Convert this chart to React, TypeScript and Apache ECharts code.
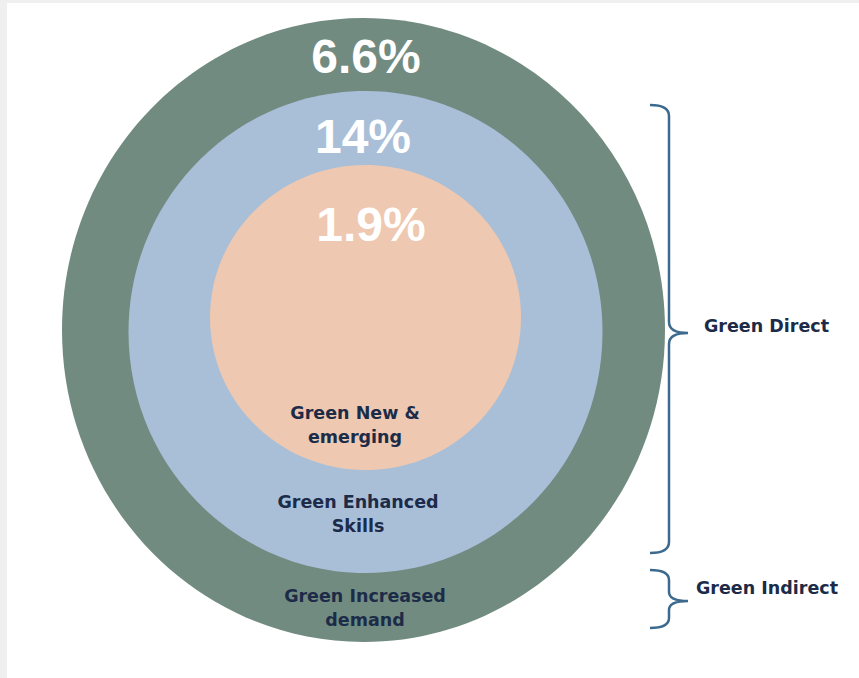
import React, { useEffect, useRef } from "react";
import * as echarts from "echarts";

// Nested rings, outermost first
const categories = ["Green Increased demand", "Green Enhanced Skills", "Green New & emerging"];
const labelLines = [["Green Increased", "demand"], ["Green Enhanced", "Skills"], ["Green New &", "emerging"]];
const shares = [6.6, 14, 1.9];
const shareLabels = ["6.6%", "14%", "1.9%"];
const groups = ["Green Direct", "Green Indirect"];

const ringColors = ["#728B80", "#A9BFD8", "#EEC8B0"];
const ellipses = [
  { cx: 363.5, cy: 330, rx: 301.5, ry: 312 },
  { cx: 365.5, cy: 332, rx: 237, ry: 241 },
  { cx: 365.5, cy: 317.5, rx: 155.5, ry: 152.5 },
];
const sharePos = [
  [366, 56],
  [363, 136],
  [371, 224],
];
const labelPos = [
  [365, 596],
  [358, 502],
  [355, 413],
];
const groupPos = [
  [704, 326],
  [696, 588],
];

const braceDirect = "M650,105 Q669,105 669,116 L669,322 Q669,333 688,333 Q669,333 669,344 L669,542 Q669,553 650,553";
const braceIndirect = "M650,570 Q669,570 669,580 L669,592 Q669,601 688,601 Q669,601 669,610 L669,618 Q669,628 650,628";

export default function App() {
  const ref = useRef<HTMLDivElement>(null);
  useEffect(() => {
    document.body.style.margin = "0";
    echarts.graphic.registerShape("braceDirect", echarts.graphic.extendPath(braceDirect, {}));
    echarts.graphic.registerShape("braceIndirect", echarts.graphic.extendPath(braceIndirect, {}));
    const chart = echarts.init(ref.current!, null, { renderer: "svg" });
    const textColor = "#1C2B48";
    const labelFont = "'DejaVu Sans', sans-serif";
    const elements: any[] = [
      { type: "rect", shape: { x: 0, y: 0, width: 859, height: 3 }, style: { fill: "#EFEFEF" }, silent: true },
      { type: "rect", shape: { x: 0, y: 0, width: 7, height: 678 }, style: { fill: "#EFEFEF" }, silent: true },
    ];
    categories.forEach((c, i) => {
      const e = ellipses[i];
      elements.push({
        type: "ellipse",
        name: c,
        shape: { cx: e.cx, cy: e.cy, rx: e.rx, ry: e.ry },
        style: { fill: ringColors[i] },
      });
    });
    shares.forEach((v, i) => {
      elements.push({
        type: "text",
        x: sharePos[i][0],
        y: sharePos[i][1],
        style: {
          text: shareLabels[i],
          fill: "#FFFFFF",
          font: "bold 48px 'Liberation Sans', Arial, sans-serif",
          textAlign: "center",
          textVerticalAlign: "middle",
        },
      });
    });
    labelLines.forEach((lines, i) => {
      elements.push({
        type: "text",
        x: labelPos[i][0],
        y: labelPos[i][1] - 12,
        style: {
          text: lines.join("\n"),
          fill: textColor,
          font: `bold 17.5px ${labelFont}`,
          lineHeight: 24,
          textAlign: "center",
          textVerticalAlign: "top",
        },
      });
    });
    groups.forEach((g, i) => {
      elements.push({
        type: "text",
        x: groupPos[i][0],
        y: groupPos[i][1],
        style: {
          text: g,
          fill: textColor,
          font: `bold 17.5px ${labelFont}`,
          textAlign: "left",
          textVerticalAlign: "middle",
        },
      });
    });
    elements.push({
      type: "braceDirect",
      x: 0,
      y: 0,
      style: { fill: "none", stroke: "#3C6A8E", lineWidth: 2.5 },
    });
    elements.push({
      type: "braceIndirect",
      x: 0,
      y: 0,
      style: { fill: "none", stroke: "#3C6A8E", lineWidth: 2.5 },
    });
    chart.setOption({
      animation: false,
      backgroundColor: "#FFFFFF",
      graphic: { elements },
    });
    return () => chart.dispose();
  }, []);
  return <div ref={ref} style={{ width: 859, height: 678 }} />;
}
